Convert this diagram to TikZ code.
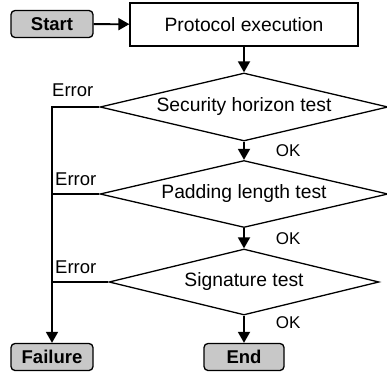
\documentclass[tikz,border=0pt]{standalone}
\usepackage{fontspec}
\setmainfont{Liberation Sans}
\usepackage{xcolor}
\usetikzlibrary{arrows.meta,shapes.geometric}
\definecolor{termgray}{RGB}{200,200,200}

\begin{document}
\begin{tikzpicture}[x=1pt,y=-1pt,
  font=\fontsize{19.3}{21}\selectfont,
  term/.style={draw,rounded corners=4pt,fill=termgray,line width=1.3pt,
    minimum width=82pt,minimum height=27pt,inner sep=0pt,
    font=\fontsize{18.5}{20}\selectfont\bfseries},
  proc/.style={draw,line width=1.3pt,minimum width=228pt,minimum height=43pt},
  test/.style={draw,diamond,aspect=4.2,line width=1.3pt,inner sep=0pt,
    minimum height=67pt},
  flow/.style={line width=1.8pt,-{Triangle[length=11pt,width=12pt]}},
  link/.style={line width=1.8pt},
  answer/.style={inner sep=0pt,font=\fontsize{17}{19}\selectfont},
  fault/.style={anchor=base west,inner sep=0pt,font=\fontsize{18.5}{20}\selectfont}]
\useasboundingbox (0,0) rectangle (387,374);

% terminals and steps
\node[term] (start) at (52,24) {Start};
\node[proc] (exec) at (244,24.5) {Protocol execution};
\node[test,minimum width=288pt,minimum height=68pt] (horizon) at (244,107) {Security horizon test};
\node[test,minimum width=288pt] (padding) at (244,194) {Padding length test};
\node[test,minimum width=270pt,minimum height=66pt] (sig) at (244,282) {Signature test};
\node[term] (fail) at (52,357) {Failure};
\node[term,minimum width=80pt] (end) at (244,357) {End};

% main flow
\draw[flow] (start) -- (exec);
\draw[flow] (exec) -- (horizon);
\draw[flow] (horizon) -- node[answer,right=31pt] {OK} (padding);
\draw[flow] (padding) -- node[answer,right=31pt] {OK} (sig);
\draw[flow] (sig) -- node[answer,pos=0.25,right=31pt] {OK} (end);

% error branch
\draw[flow] (horizon.west) -| (fail.north);
\draw[link] (padding.west) -- (padding.west -| fail.north);
\draw[link] (sig.west) -- (sig.west -| fail.north);
\node[fault] (err1) at (52,97) {Error};
\node[fault] (err2) at (55,185) {Error};
\node[fault] (err3) at (55,273) {Error};
\end{tikzpicture}
\end{document}
